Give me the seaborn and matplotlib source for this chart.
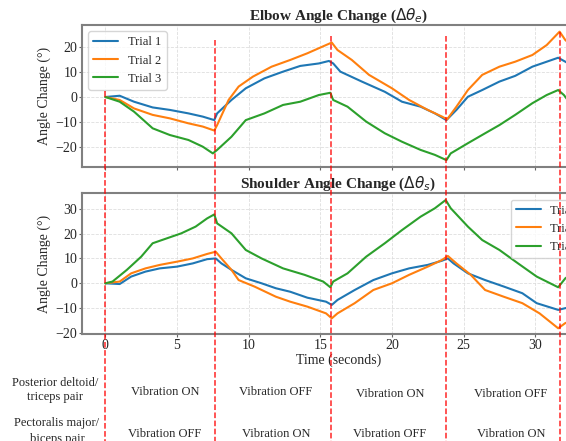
import numpy as np
import pandas as pd
import matplotlib
matplotlib.use("Agg")
import matplotlib.pyplot as plt
from matplotlib.lines import Line2D
import seaborn as sns

# ---- data ----
trials = ["Trial 1", "Trial 2", "Trial 3"]
switch_times = [0, 7.65, 15.75, 23.8, 31.7]

# elbow angle change
elbow_t1_time = [0, 1.0, 2.0, 3.3, 4.5, 5.8, 6.8, 7.6, 7.8, 8.8, 9.8, 11.1, 12.4, 13.6, 14.9, 15.6,
                 15.9, 16.4, 17.9, 19.5, 20.7, 22.0, 23.0, 23.8, 24.5, 25.3, 26.3, 27.5, 28.6, 29.8,
                 30.8, 31.6, 32.1, 32.6]
elbow_t1 = [0, 0.5, -1.9, -4.2, -5.2, -6.6, -7.9, -9.3, -6.6, -1.2, 3.5, 7.5, 10.2, 12.5, 13.5, 14.5,
            13.5, 10.2, 6.2, 2.1, -1.9, -3.9, -6.6, -9.3, -5.2, 0.1, 2.8, 6.2, 8.5, 12.2,
            14.2, 15.8, 14.2, 12.5]
elbow_t2_time = [0, 1.0, 2.0, 3.3, 4.5, 5.8, 6.8, 7.6, 7.8, 8.6, 9.3, 10.3, 11.6, 12.9, 14.1, 15.4,
                 15.8, 16.2, 17.2, 18.4, 20.0, 21.2, 22.5, 23.5, 23.85, 24.5, 25.3, 26.3, 27.5, 28.6,
                 29.8, 30.8, 31.7, 32.1, 32.6]
elbow_t2 = [0, -1.2, -4.6, -7.2, -8.6, -10.6, -11.9, -13.5, -11.3, -1.2, 4.2, 8.2, 12.2, 14.9, 17.6, 20.9,
            21.9, 18.9, 14.9, 8.9, 3.5, -1.2, -5.2, -7.9, -9.0, -3.9, 2.8, 8.9, 12.2, 14.2,
            16.9, 20.9, 26.3, 22.9, 20.5]
elbow_t3_time = [0, 1.0, 2.0, 3.3, 4.5, 5.8, 6.8, 7.5, 7.8, 8.8, 9.8, 11.1, 12.4, 13.6, 14.9, 15.7,
                 15.9, 16.9, 18.2, 19.5, 20.7, 22.0, 23.0, 23.8, 24.1, 25.3, 26.5, 27.5, 28.6, 29.8,
                 30.8, 31.6, 32.0, 32.3, 32.6]
elbow_t3 = [0, -1.9, -5.9, -12.6, -15.3, -17.3, -20.0, -22.7, -21.3, -16.0, -9.3, -6.6, -3.2, -1.9, 0.8, 1.7,
            -1.2, -3.9, -9.9, -14.6, -18.0, -21.3, -23.3, -25.4, -22.7, -18.6, -14.6, -11.3, -7.2, -2.5,
            0.8, 2.8, 0.8, -1.5, -3.0]

# shoulder angle change
shoulder_t1_time = [0, 1.0, 1.8, 2.8, 3.8, 5.0, 6.1, 7.1, 7.7, 8.1, 8.8, 9.8, 10.9, 11.9, 12.9, 14.1,
                    15.4, 15.8, 16.2, 17.4, 18.7, 20.0, 21.2, 22.5, 23.5, 23.9, 24.3, 25.3, 26.5,
                    27.8, 29.1, 30.1, 31.6, 32.1, 32.6]
shoulder_t1 = [0, -0.3, 2.7, 4.7, 6.0, 6.7, 8.0, 9.7, 10.0, 8.0, 5.4, 2.0, 0.0, -2.0, -3.4, -5.8,
               -7.4, -8.7, -6.7, -2.7, 1.3, 4.0, 6.0, 7.4, 9.1, 10.0, 8.0, 4.0, 1.3,
               -1.3, -4.0, -8.0, -10.7, -10.0, -9.5]
shoulder_t2_time = [0, 1.0, 1.8, 2.8, 3.8, 5.0, 6.1, 7.1, 7.7, 8.1, 8.8, 9.3, 10.4, 11.9, 12.9, 14.1,
                    15.4, 15.8, 16.2, 17.4, 18.7, 20.0, 21.2, 22.5, 23.5, 23.9, 24.5, 25.5, 26.5,
                    27.8, 29.1, 30.3, 31.6, 32.1, 32.6]
shoulder_t2 = [0, 0.7, 4.0, 6.0, 7.4, 8.7, 10.0, 11.8, 12.7, 10.0, 5.4, 1.3, -1.3, -5.4, -7.4, -9.4,
               -12.1, -14.1, -12.1, -8.0, -2.7, 0.0, 3.4, 6.7, 9.4, 11.0, 8.0, 3.4, -2.7,
               -5.4, -8.0, -12.1, -18.1, -16.0, -15.0]
shoulder_t3_time = [0, 0.5, 1.5, 2.5, 3.3, 4.3, 5.3, 6.3, 7.1, 7.6, 7.8, 8.8, 9.8, 10.9, 12.4, 13.9,
                    15.2, 15.7, 15.9, 16.9, 18.2, 19.5, 20.7, 22.0, 23.0, 23.75, 24.1, 25.3, 26.3,
                    27.5, 28.8, 30.1, 31.6, 32.1, 32.6]
shoulder_t3 = [0, 0.7, 5.4, 10.7, 16.1, 18.1, 20.1, 22.8, 26.1, 27.7, 24.1, 20.1, 13.4, 10.0, 6.0, 3.4,
               0.7, -1.6, 0.7, 4.0, 10.7, 16.1, 21.4, 26.8, 30.2, 33.5, 30.2, 22.8, 17.4,
               13.4, 8.0, 2.7, -1.6, 2.0, 4.0]

row_labels = ["Posterior deltoid/\ntriceps pair", "Pectoralis major/\nbiceps pair"]
row1_states = ["Vibration ON", "Vibration OFF", "Vibration ON", "Vibration OFF"]
row2_states = ["Vibration OFF", "Vibration ON", "Vibration OFF", "Vibration ON"]


def long_form(times, values):
    frames = []
    for name, t, v in zip(trials, times, values):
        frames.append(pd.DataFrame({"Time": t, "Angle": v, "Trial": name}))
    return pd.concat(frames, ignore_index=True)


elbow_df = long_form([elbow_t1_time, elbow_t2_time, elbow_t3_time], [elbow_t1, elbow_t2, elbow_t3])
shoulder_df = long_form([shoulder_t1_time, shoulder_t2_time, shoulder_t3_time],
                        [shoulder_t1, shoulder_t2, shoulder_t3])

# ---- style ----
sns.set_style("ticks")
plt.rcParams["font.family"] = ["Liberation Serif", "DejaVu Sans"]
plt.rcParams["mathtext.fontset"] = "dejavusans"
colors = ["#1f77b4", "#ff7f0e", "#2ca02c"]

fig = plt.figure(figsize=(5.66, 4.41), dpi=100)
W, H = 566, 441
ax1 = fig.add_axes([82 / W, 1 - 166.7 / H, 513 / W, 141.7 / H])
ax2 = fig.add_axes([82 / W, 1 - 334 / H, 513 / W, 140.7 / H], sharex=ax1)

for ax, df, title, loc in [(ax1, elbow_df, r"Elbow Angle Change ($\Delta\theta_e$)", "upper left"),
                           (ax2, shoulder_df, r"Shoulder Angle Change ($\Delta\theta_s$)", "upper right")]:
    sns.lineplot(data=df, x="Time", y="Angle", hue="Trial", palette=colors,
                 estimator=None, linewidth=1.5, ax=ax)
    ax.set_title(title, fontsize=11, fontweight="bold", pad=3)
    ax.set_ylabel("Angle Change (°)", fontsize=10, labelpad=3)
    ax.grid(True, linestyle="--", linewidth=0.6, color="0.87")
    ax.tick_params(labelsize=10, length=2, pad=1.5, color="0.4")
    for sp in ax.spines.values():
        sp.set_color("0.5")
        sp.set_linewidth(1.5)
    sns.move_legend(ax, loc, title=None, fontsize=9, frameon=True)

ax1.set_xlim(-1.63, 34.17)
ax1.set_ylim(-28.05, 28.97)
ax2.set_ylim(-20.4, 36.2)
ax1.set_xlabel("")
ax1.tick_params(labelbottom=False)
ax2.set_xlabel("Time (seconds)", fontsize=10, labelpad=1)
ax1.set_yticks([-20, -10, 0, 10, 20])
ax2.set_yticks([-20, -10, 0, 10, 20, 30])

# red dashed phase boundaries running down the whole figure
line_tops = [2.4, 22.9, 24.5, 24.5, 26.2]
inv = fig.transFigure.inverted()
for t, ytop in zip(switch_times, line_tops):
    xf, yf = inv.transform(ax1.transData.transform((t, ytop)))
    fig.add_artist(Line2D([xf, xf], [yf, 0], color="red", linestyle="--",
                          linewidth=1.1, alpha=0.85, zorder=10))

# condition table below the plots
state_x = [165 / W, 276 / W, 390 / W, 511 / W]
row1_y = [1 - 392 / H, 1 - 392 / H, 1 - 394 / H, 1 - 394 / H]
row2_y = [1 - 434 / H] * 4
fig.text(55 / W, 1 - 390 / H, row_labels[0], ha="center", va="center", fontsize=9, linespacing=1.3)
fig.text(57 / W, 1 - 431 / H, row_labels[1], ha="center", va="center", fontsize=9, linespacing=1.5)
for x, y, s in zip(state_x, row1_y, row1_states):
    fig.text(x, y, s, ha="center", va="center", fontsize=9)
for x, y, s in zip(state_x, row2_y, row2_states):
    fig.text(x, y, s, ha="center", va="center", fontsize=9)

fig.savefig("out.png", dpi=100)
